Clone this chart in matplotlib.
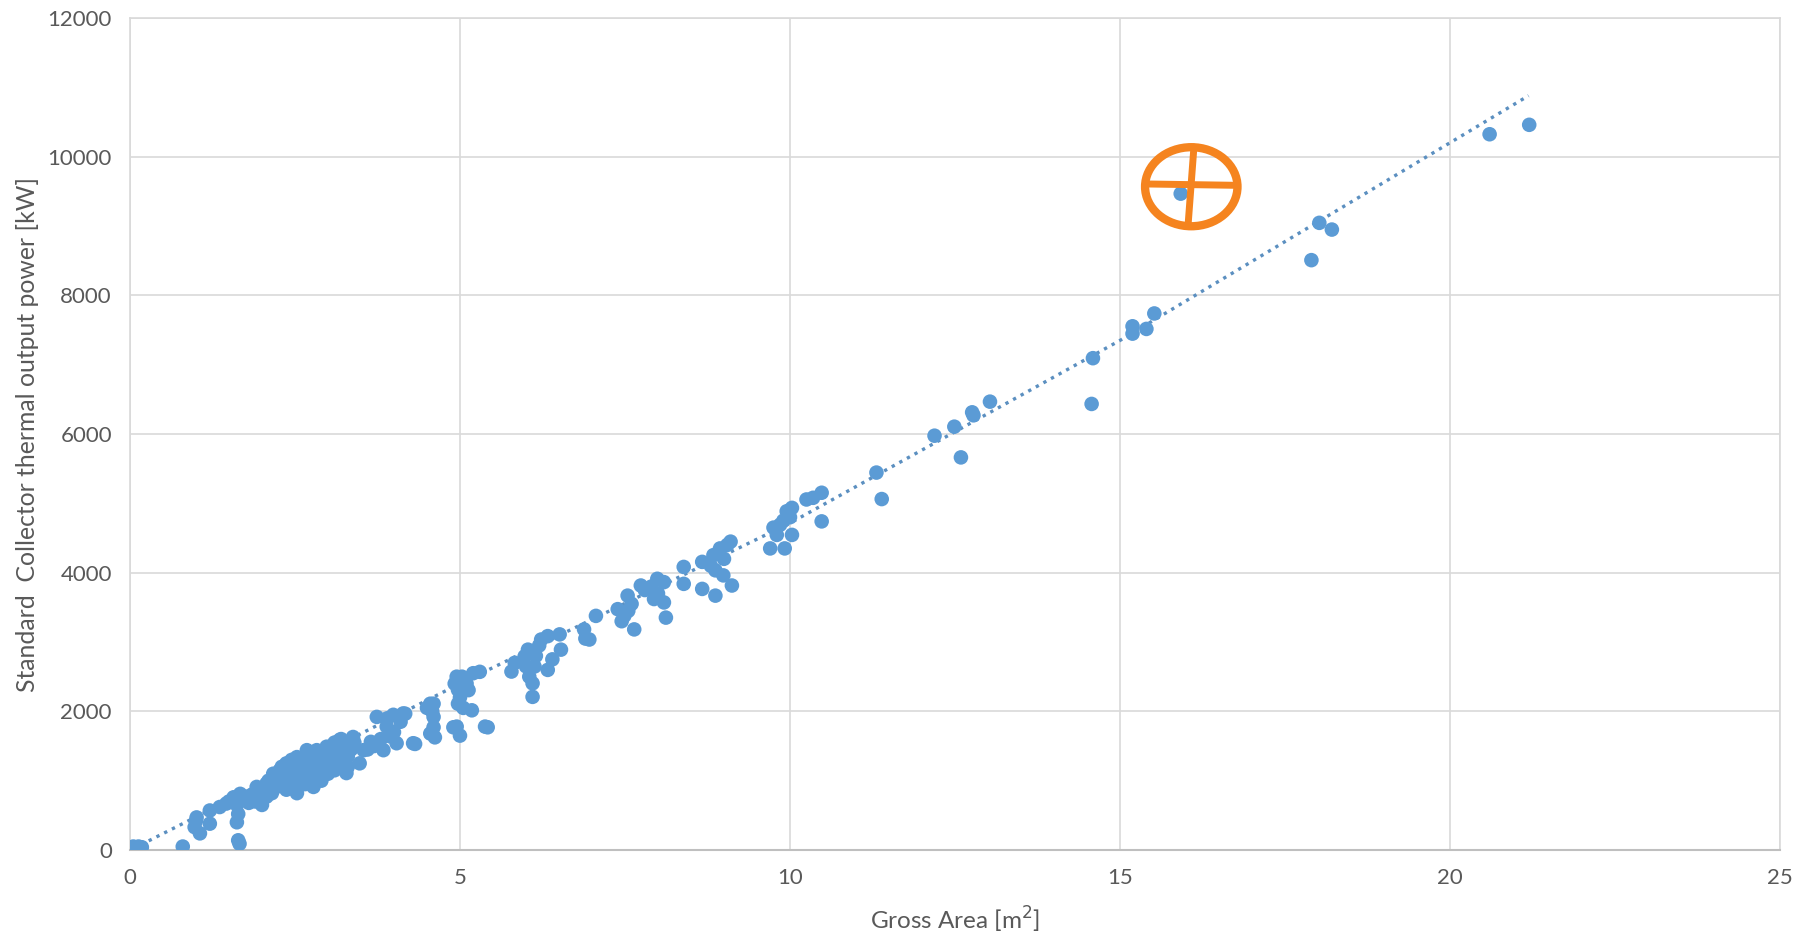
import matplotlib
matplotlib.use("Agg")
import matplotlib.pyplot as plt
from matplotlib.patches import Ellipse

# collector gross area [m2] vs standard thermal output power [kW]
gross_area = [
    0.05, 0.13, 0.18, 0.80, 1.64, 1.66, 1.62, 1.64,
    0.98, 1.01, 1.06, 1.21, 1.21, 1.00,
    1.36, 1.46, 1.57, 1.67, 1.77, 1.50, 1.62,
    1.92, 1.97, 2.07, 2.07, 2.17, 2.27, 2.27, 2.37, 2.37, 2.53, 2.53, 2.58, 2.68,
    2.73, 2.78, 2.83, 2.88, 2.98, 3.08, 3.18, 3.28, 3.38, 3.48, 3.54,
    2.00, 2.10, 2.20, 2.30, 2.40, 2.45, 2.50, 2.55, 2.60, 2.65, 2.70, 2.75, 2.80,
    2.85, 2.90, 2.95, 3.00, 3.05, 3.10, 3.15, 3.20, 3.25, 3.30, 3.35, 3.10, 3.20,
    3.40, 2.15, 2.25, 2.35, 2.45, 2.55, 2.65, 2.90, 3.00, 3.30, 1.85, 1.90, 2.00, 1.80,
    3.74, 3.89, 3.99, 4.14, 3.84, 4.04, 4.29, 3.94, 3.80, 4.00, 4.10, 3.70, 4.17,
    4.32, 3.90, 3.60, 3.65,
    4.55, 4.55, 4.60, 4.60, 4.60, 4.62, 4.95, 4.97, 4.95, 5.30, 5.10, 5.38, 4.92,
    5.03, 5.13, 4.97, 4.90, 5.00, 5.42, 5.18, 4.50, 4.58, 5.00, 5.05, 5.20,
    5.83, 6.03, 6.23, 6.33, 6.13, 6.33, 6.10, 6.10, 6.51, 6.53, 5.78, 5.98, 6.00,
    6.15, 6.20, 6.05, 6.40,
    6.88, 7.06, 6.96, 6.90,
    7.39, 7.54, 7.64, 7.74, 7.99, 8.09, 8.12, 7.94, 8.09, 7.49, 7.60, 7.80, 7.90,
    8.00, 7.45, 7.55,
    8.39, 8.39,
    8.67, 8.67, 8.84, 8.87, 8.99, 9.10, 9.12, 8.94, 8.87, 9.00, 9.05, 8.80,
    9.70, 9.85, 9.95, 10.03, 9.92, 10.25, 10.48, 10.48, 10.03, 9.80, 10.35, 9.75,
    9.90, 10.00,
    11.31, 11.39,
    12.19, 12.49, 12.59, 12.76, 12.78, 13.03,
    14.57, 14.59, 15.19, 15.19, 15.40, 15.52,
    15.92,
    17.90, 18.02, 18.21, 20.60, 21.20,
]
output_power = [
    50, 50, 40, 50, 140, 90, 400, 520,
    330, 470, 240, 570, 380, 420,
    620, 670, 760, 810, 770, 700, 650,
    910, 720, 960, 770, 1100, 1150, 1010, 1250, 870, 1340, 820, 960, 1440,
    1150, 910, 1440, 1250, 1490, 1300, 1590, 1110, 1630, 1250, 1440,
    850, 1000, 900, 1200, 1050, 1300, 1150, 1250, 1100, 1300, 1200, 1050, 1350,
    1150, 1400, 1200, 1350, 1450, 1150, 1400, 1250, 1500, 1350, 1450, 1550, 1600,
    1550, 820, 950, 1120, 980, 1050, 950, 1000, 1100, 1200, 800, 700, 650, 680,
    1920, 1780, 1950, 1970, 1440, 1540, 1540, 1640, 1600, 1700, 1850, 1500, 1966,
    1530, 1900, 1450, 1560,
    2110, 1680, 1920, 2110, 1770, 1625, 1780, 2310, 2500, 2570, 2400, 1780, 2400,
    2500, 2306, 2110, 1770, 1650, 1770, 2015, 2050, 2000, 2200, 2050, 2550,
    2700, 2890, 3036, 3085, 2647, 2598, 2209, 2404, 3110, 2890, 2574, 2793, 2650,
    2800, 2950, 2500, 2750,
    3182, 3377, 3036, 3050,
    3474, 3669, 3182, 3815, 3912, 3864, 3352, 3620, 3571, 3377, 3550, 3750, 3800,
    3700, 3300, 3450,
    4083, 3839,
    4156, 3766, 4253, 3669, 3961, 4448, 3815, 4350, 4034, 4200, 4400, 4100,
    4350, 4691, 4886, 4545, 4350, 5056, 5153, 4740, 4935, 4545, 5080, 4650,
    4750, 4800,
    5444, 5062,
    5976, 6106, 5663, 6313, 6270, 6467,
    6434, 7094, 7554, 7448, 7516, 7739,
    9467,
    8508, 9046, 8949, 10324, 10460,
]

# dotted trendline as it runs in the picture
trend_area = [0.05, 5, 10, 15, 21.19]
trend_power = [20, 2400, 4715, 7350, 10880]

x_ticks = [0, 5, 10, 15, 20, 25]
y_ticks = [0, 2000, 4000, 6000, 8000, 10000, 12000]

blue = "#5B9BD5"
grid_grey = "#D9D9D9"
text_grey = "#595959"
orange = "#F5841F"

plt.rcParams["font.family"] = ["Lato", "DejaVu Sans"]

fig = plt.figure(figsize=(18, 9.35), dpi=100)
ax = fig.add_axes([0.0722, 0.0909, 0.9167, 0.8898])

ax.scatter(gross_area, output_power, s=110, color=blue, edgecolors="none", zorder=3)
ax.plot(trend_area, trend_power, linestyle=(0, (1, 1.6)), color="#5B8FC0",
        linewidth=2.4, zorder=2)

ax.set_xlim(0, 25)
ax.set_ylim(0, 12000)
ax.set_xticks(x_ticks)
ax.set_yticks(y_ticks)
ax.grid(True, color=grid_grey, linewidth=1.2, zorder=0)
ax.tick_params(length=0, labelsize=16, colors=text_grey)
ax.tick_params(axis="y", pad=13)
ax.tick_params(axis="x", pad=13)
for side in ["left", "top", "right"]:
    ax.spines[side].set_color(grid_grey)
    ax.spines[side].set_linewidth(1.2)
ax.spines["bottom"].set_color("#BFBFBF")
ax.spines["bottom"].set_linewidth(1.5)

ax.set_xlabel("Gross Area [m$^{2}$]", fontsize=17.5, color=text_grey, labelpad=12)
ax.set_ylabel("Standard  Collector thermal output power [kW]", fontsize=17.8,
              color=text_grey, labelpad=6)

# hand-drawn orange marker around the outlier
cx, cy = 16.08, 9567
w, h = 1.40, 1140
ax.add_patch(Ellipse((cx, cy), w, h, fill=False, edgecolor=orange,
                     linewidth=6, zorder=4))
ax.plot([cx - w / 2, cx + w / 2], [cy + 40, cy + 20], color=orange,
        linewidth=5, solid_capstyle="round", zorder=4)
ax.plot([cx + 0.04, cx - 0.05], [cy + h / 2, cy - h / 2], color=orange,
        linewidth=5, solid_capstyle="round", zorder=4)

fig.savefig("out.png", dpi=100)
